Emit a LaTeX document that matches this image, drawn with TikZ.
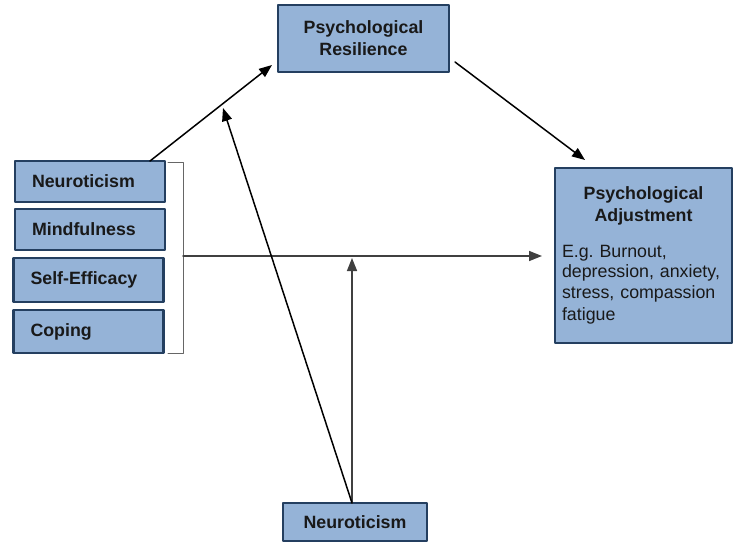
\documentclass[tikz,border=0pt]{standalone}
\usepackage{fontspec}
\setmainfont{Liberation Sans}
\usetikzlibrary{arrows.meta}
\definecolor{boxfill}{HTML}{95B3D7}
\definecolor{boxline}{HTML}{243F60}
\tikzset{
  box/.style={draw=boxline,line width=2.5pt,fill=boxfill,text=black!90,
    font=\fontsize{17.8}{22}\selectfont\bfseries},
  factor/.style={box,minimum height=41pt,text width=116pt,inner xsep=17pt,align=left},
  link/.style={line width=1.5pt,->},
}
\begin{document}
\begin{tikzpicture}[x=1pt,y=-1pt,line cap=round,line join=round,>={Triangle[length=13pt,width=10pt]}]
\useasboundingbox (0,0) rectangle (733,543);
% boxes
\node[box,minimum width=171pt,minimum height=67pt,align=center] (res) at (363.5,38.5) {Psychological\\Resilience};
\node[factor] (neuro) at (90,181.5) {Neuroticism};
\node[factor] (mind) at (90,229.5) {Mindfulness};
\node[factor,minimum height=44pt] (self) at (88.5,280) {Self-Efficacy};
\node[factor,minimum height=43pt] (cope) at (88.5,331.5) {Coping};
\node[box,minimum width=177pt,minimum height=175pt,text width=163pt,inner xsep=7pt,align=left] (adj) at (643.5,255.5)
  {{\centering Psychological\\Adjustment\par}\vspace{15pt}%
   {\mdseries\fontsize{17.8}{20.5}\selectfont E.g.\ Burnout,\\depression, anxiety,\\stress, compassion\\fatigue}};
\node[box,minimum width=144pt,minimum height=38pt] (mod) at (355,522) {Neuroticism};
% bracket
\draw[black!60,line width=1pt] (168,162) -- (183,162) -- (183,353) -- (168,353);
\coordinate (bm) at (183,256);
\coordinate (ht) at (542,256);
\coordinate (nt) at (150,161);
\coordinate (rt) at (272,65);
\coordinate (rb) at (455,62);
\coordinate (at) at (585,160);
\coordinate (mt) at (352,503);
\coordinate (vt) at (352,258);
\coordinate (dt) at (223,108);
% arrows
\draw[link] (nt) -- (rt);
\draw[link] (rb) -- (at);
\draw[link,black!75] (bm) -- (ht);
\draw[link,black!75] (mt) -- (vt);
\draw[link] (mt) -- (dt);
\end{tikzpicture}
\end{document}
